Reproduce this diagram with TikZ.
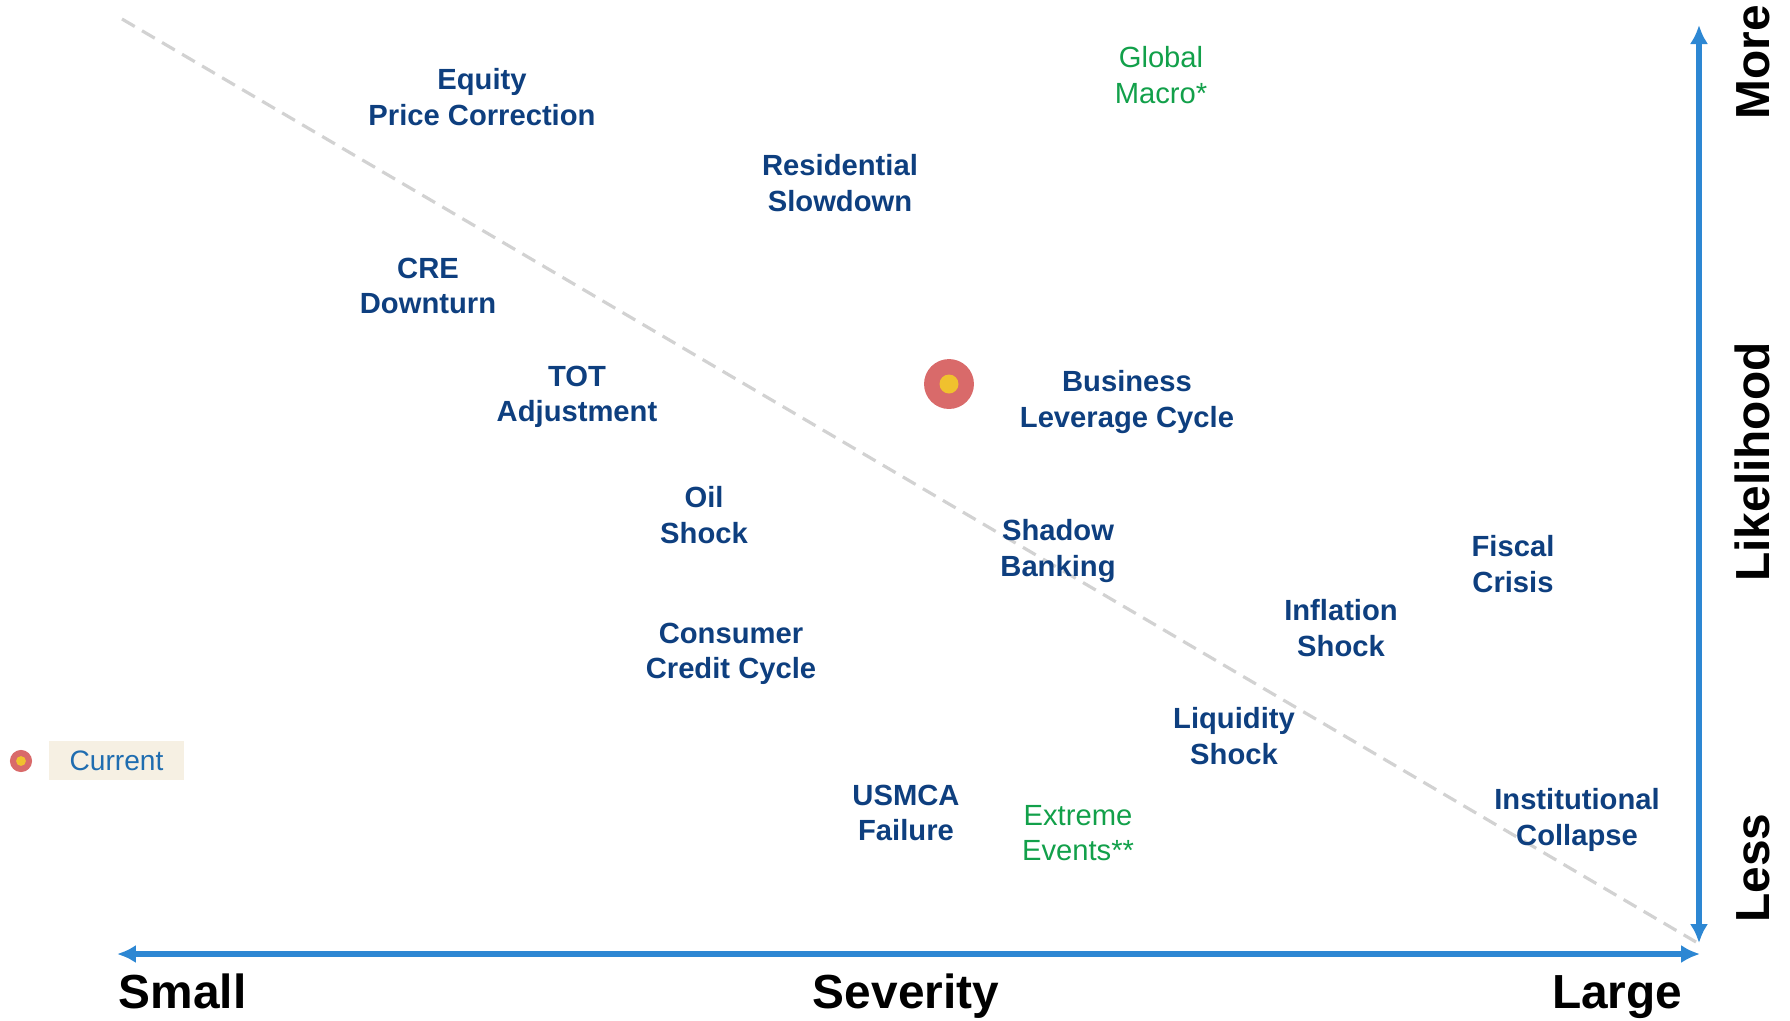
\documentclass[tikz,border=0pt]{standalone}
\usepackage{fontspec}
\setmainfont{Liberation Sans}
\usepackage{tikz}
\usetikzlibrary{arrows.meta, positioning}
\definecolor{RSK}{HTML}{0E3F7F}
\definecolor{XTR}{HTML}{12A04A}
\definecolor{AXS}{HTML}{2D87D3}
\definecolor{CUR}{HTML}{1F6DB0}
\definecolor{DOT}{HTML}{D96A6A}
\definecolor{YLW}{HTML}{F0C12E}
\definecolor{LEG}{HTML}{F6F0E3}
\definecolor{DSH}{HTML}{D2D2D2}
\tikzset{
  RSK/.style={% Style for the risk labels
      align=center,
      font=\fontsize{8.3}{10}\selectfont\bfseries,
      text=RSK,
      inner sep=0pt,
  },
  XTR/.style={% Style for the green (extra) labels
      align=center,
      font=\fontsize{8.3}{10}\selectfont,
      text=XTR,
      inner sep=0pt,
  },
  AXS/.style={% Style for the two axes
      line width=1.7pt,
      draw=AXS,
      {Latex[length=5.4pt,width=5.2pt]}-{Latex[length=5.4pt,width=5.2pt]},
  },
  BIG/.style={% Style for the axis words
      font=\fontsize{13.6}{16}\selectfont\bfseries,
      text=black,
      inner sep=0pt,
  },
  MRK/.style={% Style for the red/yellow marker
      circle, inner sep=0pt, fill=DOT,
  }
}

\begin{document}
\begin{tikzpicture}[x=0.01cm, y=-0.01cm]
    \useasboundingbox (0,0) rectangle (1790,1020);
    % diagonal
    \coordinate (dtop) at (122,19);
    \coordinate (dend) at (1696,942);
    \draw[DSH, line width=0.9pt, dash pattern=on 4.2pt off 2.4pt] (dtop) -- (dend);
    % axes
    \coordinate (xl) at (117,954);
    \coordinate (xr) at (1700,954);
    \coordinate (yt) at (1699,25);
    \coordinate (yb) at (1699,943);
    \draw[AXS] (xl) -- (xr);
    \draw[AXS] (yt) -- (yb);
    % risk labels
    \node[RSK] (equity) at (482,97) {Equity\\Price Correction};
    \node[RSK] (resid) at (840,183) {Residential\\Slowdown};
    \node[XTR] (macro) at (1161,75) {Global\\Macro*};
    \node[RSK] (cre) at (428,286) {CRE\\Downturn};
    \node[RSK] (tot) at (577,397) {TOT\\Adjustment};
    \node[RSK] (busi) at (1127,402) {Business\\Leverage Cycle};
    \node[RSK] (oil) at (704,515) {Oil\\Shock};
    \node[RSK] (shadow) at (1058,551) {Shadow\\Banking};
    \node[RSK] (fiscal) at (1513,564) {Fiscal\\Crisis};
    \node[RSK] (infl) at (1341,628) {Inflation\\Shock};
    \node[RSK] (cons) at (731,654) {Consumer\\Credit Cycle};
    \node[RSK] (liqu) at (1234,736) {Liquidity\\Shock};
    \node[RSK] (usmca) at (906,813) {USMCA\\Failure};
    \node[XTR] (extreme) at (1078,833) {Extreme\\Events**};
    \node[RSK] (inst) at (1577,820) {Institutional\\Collapse};
    % current position
    \node[MRK, minimum size=14.2pt] (now) at (949,384) {};
    \node[MRK, fill=YLW, minimum size=5.4pt] (nowin) at (now) {};
    % legend
    \node[MRK, minimum size=6.3pt] (legdot) at (21,761) {};
    \node[MRK, fill=YLW, minimum size=2.8pt] (legin) at (legdot) {};
    \node[fill=LEG, text=CUR, minimum width=38.4pt, minimum height=11.1pt, inner sep=0pt,
      font=\fontsize{8}{10}\selectfont] (leg) at (116.5,760.5) {Current};
    % axis words
    \node[BIG, anchor=base west] (small) at (118,1008) {Small};
    \node[BIG, anchor=base] (sev) at (906,1008) {Severity};
    \node[BIG, anchor=base east] (large) at (1683,1008) {Large};
    \node[BIG, rotate=90, anchor=base] (more) at (1769,62) {More};
    \node[BIG, rotate=90, anchor=base] (like) at (1769,462) {Likelihood};
    \node[BIG, rotate=90, anchor=base] (less) at (1769,868) {Less};
\end{tikzpicture}
\end{document}
